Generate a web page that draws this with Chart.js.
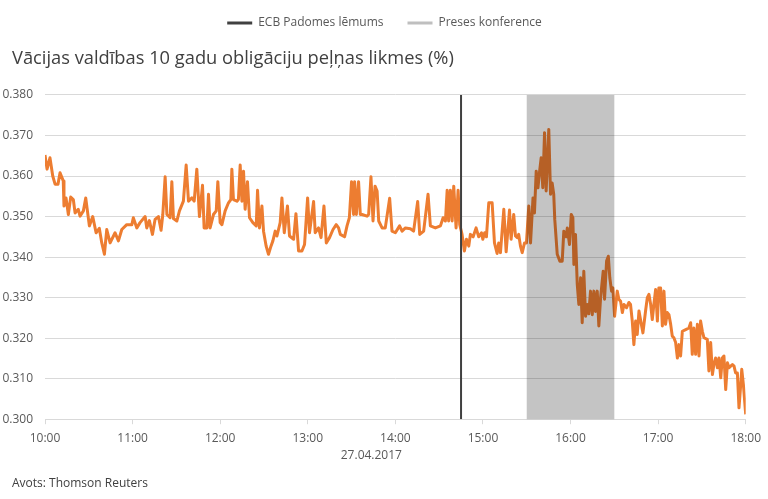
<!DOCTYPE html>
<html>
<head>
<meta charset="utf-8">
<script src="https://cdn.jsdelivr.net/npm/chart.js@4.4.0/dist/chart.umd.min.js"></script>
<style>
    html, body { margin: 0; padding: 0; background: #fff; }
    #wrap { width: 768px; height: 499px; }
</style>
</head>
<body>
<div id="wrap"><canvas id="grafiks"></canvas></div>
<script>
// laiks minūtēs kopš 10:00
const laiki = [
    0, 1.4, 3.4, 5.3, 6.9, 8.9, 10.3, 12.5, 13.0, 14.4,
    16.0, 17.6, 19.4, 20.6, 22.8, 24.0, 26.3, 27.9, 30.4, 32.7,
    35.0, 37.2, 38.9, 40.7, 42.3, 44.6, 48.0, 50.3, 52.6, 56.0,
    59.5, 60.5, 62.9, 65.1, 68.6, 69.7, 71.5, 73.6, 75.4, 77.7,
    79.5, 80.7, 82.3, 83.5, 85.7, 86.9, 88.0, 90.3, 92.1, 94.8,
    96.7, 98.3, 100.6, 102.2, 104.0, 105.8, 107.9, 109.0, 110.9, 112.0,
    113.1, 115.4, 117.3, 118.4, 120.0, 121.2, 123.4, 125.7, 127.3, 128.0,
    129.1, 131.5, 132.5, 133.7, 134.9, 136.0, 137.1, 138.7, 140.1, 142.4,
    144.7, 145.6, 146.9, 148.6, 149.7, 151.5, 153.1, 154.8, 156.1, 157.7,
    158.9, 161.1, 162.3, 163.9, 166.1, 167.5, 170.3, 171.9, 173.7, 176.0,
    177.8, 179.9, 181.2, 184.0, 185.1, 187.4, 189.1, 191.1, 192.7, 194.9,
    197.3, 199.5, 201.1, 202.3, 205.2, 206.9, 208.5, 210.0, 211.4, 212.1,
    213.3, 214.8, 216.0, 217.2, 220.6, 221.7, 223.3, 224.7, 226.1, 227.5,
    228.6, 230.9, 233.1, 236.1, 237.7, 240.0, 242.9, 244.6, 246.9, 250.3,
    252.5, 255.3, 256.7, 259.4, 262.4, 264.0, 267.4, 270.9, 272.7, 274.3,
    275.5, 276.5, 277.7, 278.9, 280.0, 281.6, 283.0, 284.1, 285.7, 287.3,
    288.7, 290.3, 291.4, 293.3, 295.3, 297.1, 299.0, 299.9, 301.2, 302.4,
    304.0, 306.3, 307.9, 309.7, 310.8, 312.0, 314.3, 315.9, 318.2, 319.3,
    321.1, 322.3, 323.5, 324.5, 325.7, 326.9, 328.5, 329.8, 331.4, 332.6,
    334.3, 335.3, 336.5, 337.7, 338.7, 339.9, 341.0, 342.2, 343.3, 344.0,
    345.1, 346.3, 347.4, 348.5, 349.2, 350.9, 352.7, 354.3, 355.4, 357.1,
    357.8, 359.3, 360.5, 361.6, 362.3, 363.4, 364.6, 365.7, 366.9, 368.0,
    369.1, 370.3, 371.5, 372.5, 373.7, 374.9, 376.0, 377.1, 378.3, 379.4,
    380.6, 382.4, 383.3, 384.7, 385.9, 386.9, 388.1, 389.0, 390.2, 392.0,
    393.1, 394.3, 395.5, 396.6, 398.4, 400.0, 401.1, 402.3, 403.4, 404.6,
    405.7, 406.9, 408.5, 409.6, 411.4, 412.6, 413.7, 414.9, 416.0, 417.1,
    418.3, 419.5, 420.5, 421.7, 422.9, 424.0, 425.1, 426.3, 427.4, 428.6,
    429.7, 430.8, 432.0, 433.2, 434.3, 435.4, 436.6, 438.9, 441.1, 442.3,
    443.4, 444.5, 445.7, 446.9, 448.0, 449.1, 450.3, 451.4, 453.7, 454.8,
    456.0, 457.2, 458.2, 459.4, 460.6, 461.7, 462.9, 464.0, 465.1, 466.3,
    467.5, 468.6, 469.7, 470.9, 472.0, 473.1, 474.3, 475.4, 476.6, 477.3,
    478.4, 480
];

const likmes = [
    0.3652, 0.3617, 0.3645, 0.360, 0.358, 0.358, 0.3608, 0.3588, 0.3526, 0.3546,
    0.3505, 0.3548, 0.3542, 0.3509, 0.3518, 0.3501, 0.3514, 0.3546, 0.3477, 0.350,
    0.346, 0.3471, 0.3435, 0.3407, 0.3468, 0.3435, 0.346, 0.344, 0.3468, 0.348,
    0.348, 0.3497, 0.3472, 0.3485, 0.350, 0.3472, 0.349, 0.3456, 0.3493, 0.350,
    0.3466, 0.3505, 0.3598, 0.3505, 0.3497, 0.3586, 0.3495, 0.3489, 0.3514, 0.3538,
    0.3627, 0.3538, 0.3546, 0.3538, 0.3617, 0.350, 0.3577, 0.3472, 0.3472, 0.3555,
    0.3472, 0.3505, 0.3514, 0.3586, 0.3485, 0.348, 0.3514, 0.3534, 0.3542, 0.3617,
    0.3542, 0.3538, 0.3542, 0.3627, 0.3538, 0.3612, 0.3518, 0.3586, 0.3497, 0.3485,
    0.3477, 0.3565, 0.3472, 0.3526, 0.3464, 0.3427, 0.3407, 0.3427, 0.344, 0.3464,
    0.3452, 0.3485, 0.3546, 0.346, 0.3526, 0.3452, 0.3444, 0.3507, 0.3415, 0.3415,
    0.3431, 0.3546, 0.346, 0.3537, 0.346, 0.3472, 0.3448, 0.3526, 0.3435, 0.3448,
    0.3468, 0.348, 0.3472, 0.3456, 0.345, 0.3477, 0.3497, 0.3586, 0.3505, 0.3586,
    0.3505, 0.3586, 0.3505, 0.3505, 0.3501, 0.3505, 0.3598, 0.3489, 0.3575, 0.3563,
    0.3489, 0.3472, 0.3472, 0.3545, 0.3464, 0.346, 0.3477, 0.3464, 0.3472, 0.347,
    0.3464, 0.3537, 0.3456, 0.3464, 0.3555, 0.3477, 0.3472, 0.3477, 0.3497, 0.3489,
    0.3565, 0.3489, 0.3565, 0.3489, 0.3575, 0.3472, 0.3565, 0.348, 0.3456, 0.3415,
    0.3444, 0.3427, 0.3456, 0.345, 0.3472, 0.345, 0.346, 0.3444, 0.346, 0.345,
    0.3534, 0.3534, 0.3435, 0.3409, 0.3435, 0.3411, 0.3518, 0.3413, 0.3516, 0.3444,
    0.3505, 0.3452, 0.3448, 0.3456, 0.3427, 0.3411, 0.3435, 0.3435, 0.3526, 0.3435,
    0.3546, 0.3509, 0.3612, 0.3571, 0.3608, 0.3645, 0.3571, 0.3707, 0.3563, 0.3621,
    0.3715, 0.3555, 0.3583, 0.3555, 0.3493, 0.3407, 0.339, 0.339, 0.3464, 0.345,
    0.3472, 0.3431, 0.3505, 0.3497, 0.3382, 0.3456, 0.3333, 0.3283, 0.3349, 0.3238,
    0.3365, 0.3254, 0.3283, 0.326, 0.3316, 0.3258, 0.3316, 0.3266, 0.3316, 0.323,
    0.33, 0.3365, 0.3296, 0.339, 0.3402, 0.3349, 0.3316, 0.3324, 0.3254, 0.3316,
    0.3296, 0.3291, 0.3263, 0.3283, 0.3275, 0.3288, 0.3283, 0.3242, 0.3184, 0.3242,
    0.3209, 0.3267, 0.3234, 0.3213, 0.3267, 0.33, 0.3308, 0.3283, 0.3246, 0.3283,
    0.332, 0.3242, 0.3324, 0.3324, 0.323, 0.3316, 0.3234, 0.3263, 0.3258, 0.3234,
    0.3205, 0.3201, 0.3189, 0.3151, 0.3184, 0.3156, 0.3217, 0.3221, 0.3225, 0.3238,
    0.316, 0.3225, 0.316, 0.3234, 0.3156, 0.3242, 0.3217, 0.3201, 0.3197, 0.3119,
    0.3189, 0.311, 0.3135, 0.3151, 0.3127, 0.3151, 0.3102, 0.3151, 0.3156, 0.3073,
    0.3139, 0.3127, 0.3131, 0.3135, 0.3131, 0.3114, 0.3114, 0.3028, 0.3086, 0.3123,
    0.3086, 0.3012
];

const laikaEtiketes = ['10:00', '11:00', '12:00', '13:00', '14:00', '15:00', '16:00', '17:00', '18:00'];
const ecbLemums = 285;              // 14:45
const presesKonference = [330, 390]; // 15:30 - 16:30
const datums = '27.04.2017';

const oranzs = '#ED7D31';

const fonaJosla = {
    id: 'fonaJosla',
    afterLayout(chart) {
        // lai y ass etiķetes netiek apgrieztas pie kreisās malas
        chart.scales.y.left = 0;
    },
    afterDatasetsDraw(chart) {
        const { ctx, chartArea, scales } = chart;
        const x1 = scales.x.getPixelForValue(presesKonference[0]);
        const x2 = scales.x.getPixelForValue(presesKonference[1]);
        ctx.save();
        ctx.globalCompositeOperation = 'multiply';
        ctx.fillStyle = '#C4C4C4';
        ctx.fillRect(x1, chartArea.top, x2 - x1, chartArea.bottom - chartArea.top);
        ctx.restore();
    },
    afterDraw(chart) {
        const { ctx, chartArea, scales } = chart;
        ctx.save();
        ctx.font = '12px "Open Sans", sans-serif';
        ctx.fillStyle = '#595959';
        ctx.textAlign = 'center';
        ctx.textBaseline = 'middle';
        ctx.fillText(datums, (chartArea.left + chartArea.right) / 2 - 24, scales.x.bottom + 3);
        ctx.restore();
    }
};

Chart.defaults.font.family = '"Open Sans", sans-serif';
Chart.defaults.font.size = 12;
Chart.defaults.color = '#595959';

new Chart(document.getElementById('grafiks'), {
    type: 'line',
    data: {
        datasets: [
            {
                label: 'ECB Padomes lēmums',
                data: [{ x: ecbLemums, y: 0.300 }, { x: ecbLemums, y: 0.380 }],
                borderColor: '#404040',
                borderWidth: 2,
                pointRadius: 0,
                order: 0
            },
            {
                label: 'Likme',
                data: laiki.map((t, i) => ({ x: t, y: likmes[i] })),
                borderColor: oranzs,
                borderWidth: 3,
                borderJoinStyle: 'round',
                pointRadius: 0,
                tension: 0,
                order: 1
            }
        ]
    },
    options: {
        responsive: true,
        maintainAspectRatio: false,
        animation: false,
        devicePixelRatio: 1,
        layout: { padding: { left: 12, right: 11, top: -7, bottom: 0 } },
        plugins: {
            legend: {
                position: 'top',
                weight: 3000,
                labels: {
                    boxWidth: 25,
                    boxHeight: 3,
                    padding: 24,
                    color: '#595959',
                    generateLabels: () => [
                        { text: 'ECB Padomes lēmums', fillStyle: '#404040', strokeStyle: '#404040', lineWidth: 0, fontColor: '#595959' },
                        { text: 'Preses konference', fillStyle: '#BFBFBF', strokeStyle: '#BFBFBF', lineWidth: 0, fontColor: '#595959' }
                    ]
                }
            },
            title: {
                display: true,
                text: 'Vācijas valdības 10 gadu obligāciju peļņas likmes (%)',
                align: 'start',
                color: '#404040',
                font: { size: 18.3, weight: 'normal' },
                padding: { top: 9, bottom: 25 }
            },
            subtitle: {
                display: true,
                position: 'bottom',
                text: 'Avots: Thomson Reuters',
                align: 'start',
                color: '#404040',
                font: { size: 12 },
                padding: { top: 24, bottom: 8 }
            },
            tooltip: { enabled: false }
        },
        scales: {
            x: {
                type: 'linear',
                min: 0,
                max: 480,
                border: { color: '#D9D9D9' },
                grid: { drawOnChartArea: false, drawTicks: true, tickLength: 5, color: '#D9D9D9' },
                ticks: {
                    stepSize: 60,
                    padding: 7,
                    maxRotation: 0,
                    callback: (v, i) => laikaEtiketes[i]
                }
            },
            y: {
                min: 0.300,
                max: 0.380,
                border: { display: false },
                grid: { color: '#D9D9D9', drawTicks: false },
                ticks: {
                    stepSize: 0.01,
                    padding: 12,
                    callback: v => v.toFixed(3)
                },
                afterFit: scale => { scale.width = 33; }
            }
        }
    },
    plugins: [fonaJosla]
});
</script>
</body>
</html>
